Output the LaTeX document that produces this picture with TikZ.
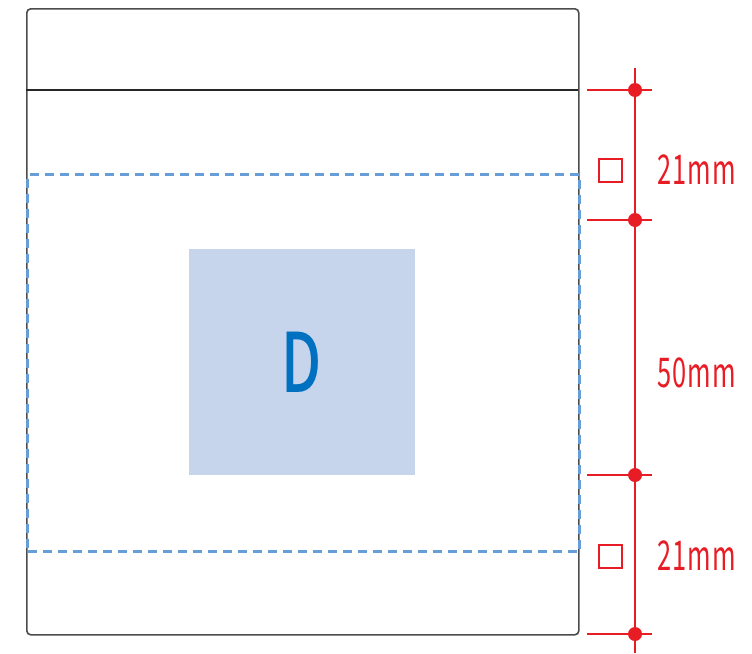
\documentclass[tikz,border=0pt]{standalone}
\usepackage{fontspec}
\newfontfamily\gothic{Noto Sans CJK JP}[FakeStretch=0.62, LetterSpace=3]
\newfontfamily\gothicbold{Noto Sans CJK JP Medium}[FakeStretch=0.7]
\usetikzlibrary{positioning}
\definecolor{dimred}{RGB}{232,28,36}
\definecolor{areablue}{RGB}{104,158,216}
\definecolor{printfill}{RGB}{198,212,236}
\definecolor{printtext}{RGB}{0,112,192}

\begin{document}
\begin{tikzpicture}[x=1pt, y=-1pt,
    dim/.style={draw=dimred, line width=1.4pt},
    dimdot/.style={circle, fill=dimred, inner sep=0pt, minimum size=14pt},
    dimlabel/.style={text=dimred, anchor=west, inner sep=0pt, font=\gothic\fontsize{41}{43}\selectfont},
    dimbox/.style={draw=dimred, line width=2pt, inner sep=0pt, minimum size=23pt}]
    \useasboundingbox (0,0) rectangle (752,653);

    % bag outline and seal
    \node [draw=black!70, line width=1.6pt, rounded corners=4pt, minimum width=552pt, minimum height=626pt, anchor=north west] (bag) at (26,8) {};
    \coordinate (sealL) at (26,90);
    \coordinate (sealR) at (578,90);
    \draw [black!85, line width=1.2pt] (sealL) -- (sealR);

    % printable area and print
    \node [draw=areablue, dash pattern=on 9pt off 6pt, line width=3.4pt, minimum width=552pt, minimum height=377pt, anchor=north west] (area) at (26,173) {};
    \node [fill=printfill, minimum size=226pt, inner sep=0pt, text=printtext, font=\gothicbold\fontsize{82}{84}\selectfont] (print) at (302,362) {D};

    % dimensions
    \coordinate (dimtop) at (635,68);
    \coordinate (dimbot) at (635,653);
    \draw [dim] (dimtop) -- (dimbot);
    \node [dimdot] (d1) at (635,90) {};
    \node [dimdot] (d2) at (635,220) {};
    \node [dimdot] (d3) at (635,475) {};
    \node [dimdot] (d4) at (635,634) {};
    \foreach \d in {d1,d2,d3,d4}
        \draw [dim] ([xshift=-48pt]\d.center) -- ([xshift=17pt]\d.center);

    \node [dimbox] (box1) at (610,170) {};
    \node [dimbox] (box2) at (610,556) {};
    \node [dimlabel] (len1) at (657,170) {21mm};
    \node [dimlabel] (len2) at (657,373) {50mm};
    \node [dimlabel] (len3) at (657,556) {21mm};
\end{tikzpicture}
\end{document}
